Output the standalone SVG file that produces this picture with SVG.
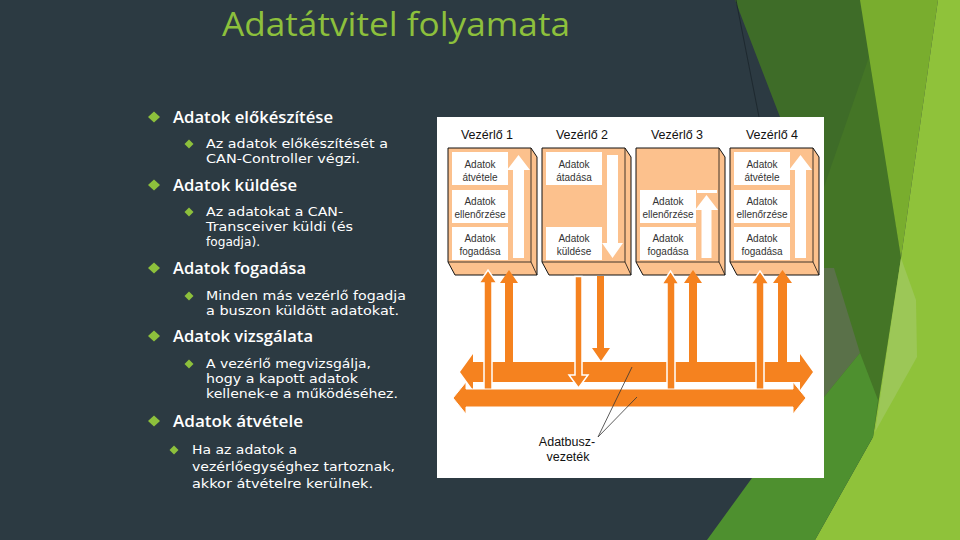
<svg xmlns="http://www.w3.org/2000/svg" width="960" height="540" viewBox="0 0 960 540">
<defs>
<style>
.ttl{font-family:"Open Sans","DejaVu Sans",sans-serif;font-size:32px;fill:#8dc03c}
.t1{font-family:"Open Sans","DejaVu Sans",sans-serif;font-size:16px;font-weight:600;fill:#fff}
.t2{font-family:"DejaVu Sans","Liberation Sans",sans-serif;font-size:12.5px;fill:#fff}
.bul{fill:#8dc03c}
.hdr{font-family:"Liberation Sans",Arial,sans-serif;font-size:12.5px;fill:#111;text-anchor:middle}
.box{fill:#fcc18d;stroke:#111;stroke-width:1}
.edge{fill:none;stroke:#111;stroke-width:0.8}
.cell{fill:#fff}
.ct{font-family:"Liberation Sans",Arial,sans-serif;font-size:10px;fill:#333;text-anchor:middle}
.warr{fill:#fff}
.arr{fill:#f5821f}
.arrw{fill:#f5821f;stroke:#fff;stroke-width:1.5}
.lead{fill:none;stroke:#333;stroke-width:0.8}
.lbl{font-family:"Liberation Sans",Arial,sans-serif;font-size:12.5px;fill:#111;text-anchor:middle}
</style>
<path id="d1" d="M-6,0 L0,-5.5 L6,0 L0,5.5Z"/>
<path id="d2" d="M-4.5,0 L0,-4.5 L4.5,0 L0,4.5Z"/>
<path id="boxshape" d="M0,148 H83 L89,157 V275 H7 L0,262 Z"/>
<path id="boxedge" d="M83,148 V262 H0 M83,262 L89,275"/>
</defs>

<!-- background -->
<rect width="960" height="540" fill="#2c3a42"/>
<g id="facets">
<polygon points="735,0 862,0 901,258 873,437 824,478 780,478 780,117" fill="#3e6c28"/>
<polygon points="869,57 901,258 873,437 824,478 824,187" fill="#447526"/>
<polygon points="860,0 938,0 901,258" fill="#79ad2e"/>
<polygon points="938,0 960,0 960,540 815,540 873,437 901,258" fill="#8fc23a"/>
<polygon points="901,258 916,300 917,357 875,432" fill="#9cc757"/>
<polygon points="824,268 834,268 860,353 824,397" fill="#5a7149"/>
<polygon points="824,397 860,353 878,400 873,437 815,540 707,540 752,478 824,478" fill="#4e902f"/>
<line x1="736" y1="0" x2="759" y2="117" stroke="#1b252b" stroke-width="0.8"/>
</g>

<!-- title -->
<text class="ttl" x="222" y="36" textLength="348" lengthAdjust="spacingAndGlyphs">Adatátvitel folyamata</text>

<!-- bullet list -->
<g id="list">
<use href="#d1" x="154" y="117" class="bul"/>
<text class="t1" x="173" y="123" textLength="160" lengthAdjust="spacingAndGlyphs">Adatok előkészítése</text>
<use href="#d2" x="189" y="144" class="bul"/>
<text class="t2" x="206" y="148" textLength="182" lengthAdjust="spacingAndGlyphs">Az adatok előkészítését a</text>
<text class="t2" x="206" y="163" textLength="154" lengthAdjust="spacingAndGlyphs">CAN-Controller végzi.</text>

<use href="#d1" x="154" y="185" class="bul"/>
<text class="t1" x="173" y="191" textLength="124" lengthAdjust="spacingAndGlyphs">Adatok küldése</text>
<use href="#d2" x="189" y="212" class="bul"/>
<text class="t2" x="206" y="216" textLength="137" lengthAdjust="spacingAndGlyphs">Az adatokat a CAN-</text>
<text class="t2" x="206" y="231" textLength="147" lengthAdjust="spacingAndGlyphs">Transceiver küldi (és</text>
<text class="t2" x="206" y="246" textLength="54" lengthAdjust="spacingAndGlyphs">fogadja).</text>

<use href="#d1" x="154" y="268" class="bul"/>
<text class="t1" x="173" y="274" textLength="133" lengthAdjust="spacingAndGlyphs">Adatok fogadása</text>
<use href="#d2" x="189" y="296" class="bul"/>
<text class="t2" x="206" y="300" textLength="200" lengthAdjust="spacingAndGlyphs">Minden más vezérlő fogadja</text>
<text class="t2" x="206" y="315" textLength="193" lengthAdjust="spacingAndGlyphs">a buszon küldött adatokat.</text>

<use href="#d1" x="154" y="336" class="bul"/>
<text class="t1" x="173" y="342" textLength="140" lengthAdjust="spacingAndGlyphs">Adatok vizsgálata</text>
<use href="#d2" x="189" y="364" class="bul"/>
<text class="t2" x="206" y="368" textLength="165" lengthAdjust="spacingAndGlyphs">A vezérlő megvizsgálja,</text>
<text class="t2" x="206" y="383" textLength="152" lengthAdjust="spacingAndGlyphs">hogy a kapott adatok</text>
<text class="t2" x="206" y="398" textLength="192" lengthAdjust="spacingAndGlyphs">kellenek-e a működéséhez.</text>

<use href="#d1" x="154" y="421" class="bul"/>
<text class="t1" x="173" y="427" textLength="130" lengthAdjust="spacingAndGlyphs">Adatok átvétele</text>
<use href="#d2" x="174" y="450" class="bul"/>
<text class="t2" x="192" y="454" textLength="105" lengthAdjust="spacingAndGlyphs">Ha az adatok a</text>
<text class="t2" x="192" y="471" textLength="203" lengthAdjust="spacingAndGlyphs">vezérlőegységhez tartoznak,</text>
<text class="t2" x="192" y="488" textLength="181" lengthAdjust="spacingAndGlyphs">akkor átvételre kerülnek.</text>
</g>

<!-- diagram panel -->
<rect x="437" y="117" width="387" height="361" fill="#fff"/>

<g id="vezerlo1" transform="translate(448,0)">
<text class="hdr" x="39" y="139">Vezérlő 1</text>
<use href="#boxshape" class="box"/>
<use href="#boxedge" class="edge"/>
<rect class="cell" x="4" y="152" width="56" height="33"/>
<rect class="cell" x="4" y="190" width="56" height="33"/>
<rect class="cell" x="4" y="227" width="56" height="33"/>
<text class="ct" x="32" y="168">Adatok</text><text class="ct" x="32" y="181">átvétele</text>
<text class="ct" x="32" y="205">Adatok</text><text class="ct" x="32" y="218">ellenőrzése</text>
<text class="ct" x="32" y="242">Adatok</text><text class="ct" x="32" y="255">fogadása</text>
<path class="warr" d="M65,258 V170 H59 L70.5,155 L82,170 H76 V258 Z"/>
</g>

<g id="vezerlo2" transform="translate(542,0)">
<text class="hdr" x="40" y="139">Vezérlő 2</text>
<use href="#boxshape" class="box"/>
<use href="#boxedge" class="edge"/>
<rect class="cell" x="4" y="152" width="56" height="33"/>
<rect class="cell" x="4" y="227" width="56" height="33"/>
<text class="ct" x="32" y="168">Adatok</text><text class="ct" x="32" y="181">átadása</text>
<text class="ct" x="32" y="242">Adatok</text><text class="ct" x="32" y="255">küldése</text>
<path class="warr" d="M65,155 V243 H60 L70.5,258 L81,243 H76 V155 Z"/>
</g>

<g id="vezerlo3" transform="translate(636,0)">
<text class="hdr" x="41" y="139">Vezérlő 3</text>
<use href="#boxshape" class="box"/>
<use href="#boxedge" class="edge"/>
<rect class="cell" x="4" y="190" width="56" height="33"/>
<rect class="cell" x="4" y="227" width="56" height="33"/>
<text class="ct" x="32" y="205">Adatok</text><text class="ct" x="32" y="218">ellenőrzése</text>
<text class="ct" x="32" y="242">Adatok</text><text class="ct" x="32" y="255">fogadása</text>
<rect class="cell" x="61" y="190" width="20" height="3"/>
<path class="warr" d="M65.5,258 V210 H59 L70.5,195 L82,210 H75.5 V258 Z"/>
</g>

<g id="vezerlo4" transform="translate(730,0)">
<text class="hdr" x="42" y="139">Vezérlő 4</text>
<use href="#boxshape" class="box"/>
<use href="#boxedge" class="edge"/>
<rect class="cell" x="4" y="152" width="56" height="33"/>
<rect class="cell" x="4" y="190" width="56" height="33"/>
<rect class="cell" x="4" y="227" width="56" height="33"/>
<text class="ct" x="32" y="168">Adatok</text><text class="ct" x="32" y="181">átvétele</text>
<text class="ct" x="32" y="205">Adatok</text><text class="ct" x="32" y="218">ellenőrzése</text>
<text class="ct" x="32" y="242">Adatok</text><text class="ct" x="32" y="255">fogadása</text>
<path class="warr" d="M65,258 V170 H59 L70.5,155 L82,170 H76 V258 Z"/>
</g>

<g id="connectors">
<path class="arr" d="M460,372 L473,354 V362 H800 V354 L813,372 L800,390 V382 H473 V390 Z"/>
<path class="arr" d="M505,364 V283 H500 L509,270 L518,283 H513 V364 Z"/>
<path class="arr" d="M597,276 V348 H592 L601,361 L610,348 H604 V276 Z"/>
<path class="arr" d="M689,364 V283 H684 L693,270 L702,283 H697 V364 Z"/>
<path class="arr" d="M778,364 V283 H773 L782.5,270 L792,283 H787 V364 Z"/>
<path class="arrw" d="M484,392 V283 H479 L488,270 L497,283 H492 V392 Z"/>
<path class="arrw" d="M575,276.5 V375 H569 L578.5,388 L588,375 H582 V276.5 Z"/>
<path class="arrw" d="M667,392 V284 H662 L670.5,271 L679,284 H675 V392 Z"/>
<path class="arrw" d="M756,392 V284 H751 L760,271 L769,284 H764 V392 Z"/>
<path class="arr" stroke="#fff" stroke-width="1" d="M453,398 L466,382 V389 H793 V382 L806,398 L793,414 V407 H466 V414 Z"/>
<path class="lead" d="M598,437 L632,367 M598,437 L637,397"/>
</g>

<g id="adatbusz">
<text class="lbl" x="567" y="446">Adatbusz-</text>
<text class="lbl" x="568" y="461">vezeték</text>
</g>
</svg>
